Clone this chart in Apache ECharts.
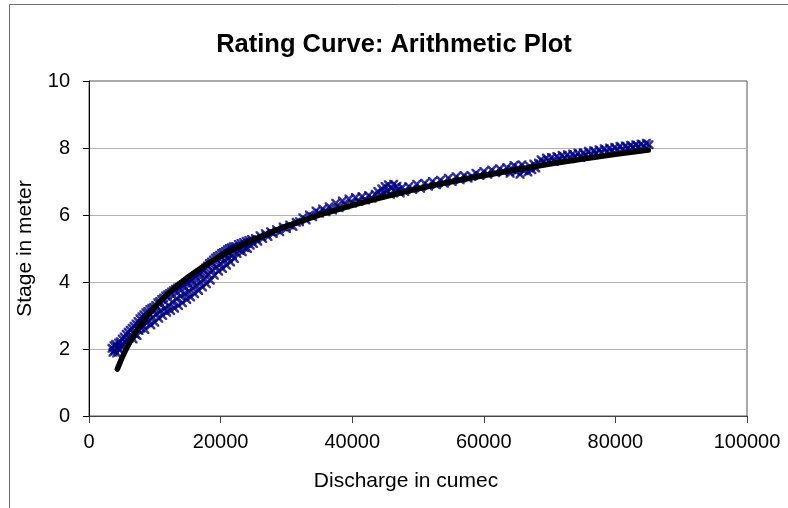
<!DOCTYPE html>
<html>
<head>
<meta charset="utf-8">
<title>Rating Curve: Arithmetic Plot</title>
<script src="https://cdn.jsdelivr.net/npm/echarts@6/dist/echarts.min.js"></script>
<style>
  html, body { margin: 0; padding: 0; background: #ffffff; }
  #chart { width: 788px; height: 508px; }
</style>
</head>
<body>
<div id="chart"></div>
<script>
// Gauged observations: [discharge (cumec), stage (m)]
const gaugings = [
  [3500,2.02],[3650,1.90],[3800,2.10],[3900,1.96],[4050,2.14],[4200,1.88],[4350,2.05],[4500,2.18],
  [4600,1.98],[4750,2.22],[4900,2.08],[5050,2.30],[5200,2.12],[5350,2.36],[5500,2.20],[5650,2.44],
  [5800,2.26],[5950,2.50],[6100,2.32],[6250,2.56],[6400,2.40],[6550,2.62],
  [6700,2.30],[6850,2.68],[7000,2.45],[7150,2.75],[7300,2.40],[7450,2.82],[7600,2.55],[7750,2.90],
  [7900,2.62],[8050,2.96],[8200,2.70],[8350,3.02],[8500,2.58],[8650,3.08],[8800,2.78],[8950,3.12],
  [9100,2.85],[9250,3.18],[9400,2.72],[9550,3.22],
  [9700,2.95],[9850,3.25],[10000,2.80],[10150,3.30],[10300,3.05],[10450,3.38],[10600,2.92],[10750,3.42],
  [10900,3.15],[11050,3.48],[11200,3.00],[11350,3.52],[11500,3.22],[11650,3.58],[11800,3.10],[11950,3.62],
  [12100,3.30],[12250,3.66],[12400,3.15],[12550,3.70],[12700,3.40],[12850,3.74],[13000,3.22],[13150,3.78],
  [13300,3.50],[13450,3.82],[13600,3.30],[13750,3.85],[13900,3.58],[14050,3.88],[14200,3.38],[14350,3.92],
  [14500,3.65],
  [14700,3.96],[14850,3.48],[15000,3.98],[15150,3.72],[15300,4.02],[15450,3.55],[15600,4.08],[15750,3.82],
  [15900,4.12],[16050,3.65],[16200,4.18],[16350,3.90],[16500,4.22],[16650,3.75],[16800,4.26],[16950,4.00],
  [17100,4.30],
  [17250,3.85],[17400,4.35],[17550,4.10],[17700,4.42],[17850,3.95],[18000,4.48],[18150,4.22],[18300,4.55],
  [18450,4.05],[18600,4.60],[18750,4.35],[18900,4.66],[19050,4.20],[19200,4.72],[19350,4.45],[19500,4.76],
  [19700,4.32],[19850,4.80],[20000,4.55],[20150,4.85],[20300,4.40],[20450,4.88],[20600,4.65],[20750,4.92],
  [20900,4.50],[21050,4.96],[21200,4.72],[21350,5.00],[21500,4.60],[21650,5.02],[21800,4.80],[21950,5.05],
  [22100,4.70],
  [22300,5.06],[22500,4.85],[22700,5.12],[22900,4.95],[23100,5.15],[23300,4.90],[23500,5.18],[23700,5.02],
  [23900,5.22],[24100,5.00],[24300,5.24],[24500,5.10],[24700,5.27],
  [25000,5.15],[25300,5.30],[25650,5.22],[26000,5.38],[26400,5.30],[26800,5.44],[27200,5.36],[27600,5.50],
  [28000,5.45],[28500,5.56],[29000,5.50],[29500,5.64],[30000,5.60],[30500,5.70],[31000,5.66],[31500,5.78],
  [32000,5.80],[32500,5.92],[33000,5.85],[33500,6.00],[34000,5.95],[34500,6.12],[35000,6.05],[35500,6.18],
  [36000,6.10],[36500,6.25],[37000,6.15],[37500,6.35],[38000,6.22],[38500,6.42],[39000,6.30],[39500,6.48],
  [40000,6.35],[40500,6.52],[41000,6.40],[41500,6.55],[42000,6.45],[42500,6.58],[43000,6.50],[43500,6.62],
  [43900,6.70],[44200,6.58],[44500,6.78],[44800,6.65],[45000,6.85],[45300,6.72],[45500,6.90],[45800,6.62],
  [46000,6.80],[46300,6.92],[46500,6.70],[46800,6.86],[47000,6.75],[47300,6.66],[47600,6.82],
  [48000,6.70],[48600,6.85],[49200,6.76],[49800,6.92],[50400,6.80],[51000,6.95],[51600,6.86],[52200,7.00],
  [52800,6.90],[53400,7.04],[54000,6.95],[54600,7.10],[55200,7.00],[55800,7.14],[56400,7.05],[57000,7.18],
  [57600,7.10],
  [58200,7.15],[58800,7.25],[59400,7.18],[60000,7.30],[60600,7.22],[61200,7.34],[61800,7.26],[62400,7.38],
  [63000,7.30],
  [63500,7.42],[64000,7.25],[64300,7.35],[64600,7.48],[64900,7.30],[65200,7.40],[65500,7.22],[65800,7.50],
  [66100,7.32],[66400,7.38],[66700,7.28],[67000,7.45],[67300,7.35],[67600,7.52],[67900,7.40],
  [68300,7.55],[68700,7.65],[69100,7.58],[69500,7.70],[69900,7.62],[70300,7.72],[70700,7.60],[71100,7.75],
  [71500,7.66],[71900,7.78],[72300,7.70],[72700,7.80],[73100,7.68],[73500,7.82],[73900,7.74],[74300,7.85],
  [74700,7.72],[75100,7.86],[75500,7.78],[75900,7.90],[76300,7.80],[76700,7.92],[77100,7.84],[77500,7.95],
  [77900,7.86],[78300,7.98],[78700,7.88],[79100,8.00],[79500,7.92],[79900,8.02],[80300,7.94],[80700,8.05],
  [81100,7.96],[81500,8.06],[81900,8.00],[82300,8.08],[82700,8.02],[83100,8.10],[83500,8.04],[83900,8.12],
  [84300,8.06],[84700,8.14],[85100,8.10]
];

// Fitted rating curve (discharge, stage)
const trendDischarge = [4300, 4600, 5000, 5500, 6000, 6500, 7000, 7500, 8000, 9000, 10000, 11000, 12000,
  13000, 14000, 15000, 16000, 18000, 20000, 22000, 24000, 26000, 28000, 30000, 33000, 36000, 40000,
  44000, 48000, 52000, 56000, 60000, 65000, 70000, 75000, 80000, 85000];
const trendStage = [1.40, 1.54, 1.73, 1.94, 2.13, 2.30, 2.47, 2.62, 2.76, 3.02, 3.25, 3.46, 3.65,
  3.82, 3.99, 4.14, 4.28, 4.54, 4.77, 4.98, 5.17, 5.34, 5.51, 5.66, 5.87, 6.06, 6.29,
  6.50, 6.69, 6.87, 7.03, 7.18, 7.35, 7.52, 7.67, 7.81, 7.94];

const chartTitle = 'Rating Curve: Arithmetic Plot';
const xTitle = 'Discharge in cumec';
const yTitle = 'Stage in meter';

const FONT = "'Liberation Sans', Arial, sans-serif";
// "x" shaped marker with solid arms
const crossMarker = 'path://M0,0 L2,0 L5,3 L8,0 L10,0 L10,2 L7,5 L10,8 L10,10 L8,10 L5,7 L2,10 L0,10 L0,8 L3,5 L0,2 Z';

const chart = echarts.init(document.getElementById('chart'), null, { renderer: 'canvas' });

chart.setOption({
  backgroundColor: '#ffffff',
  animation: false,
  title: {
    text: chartTitle,
    left: 'center',
    top: 32,
    padding: 0,
    textStyle: { fontFamily: FONT, fontSize: 25.5, fontWeight: 'bold', color: '#000000' }
  },
  graphic: [{
    type: 'rect',
    silent: true,
    shape: { x: 9.5, y: 4.5, width: 900, height: 700 },
    style: { fill: 'none', stroke: '#6e6e6e', lineWidth: 1 },
    z: -1
  }],
  grid: {
    left: 89, right: 41, top: 81, bottom: 92,
    show: true,
    borderColor: '#555555',
    borderWidth: 1,
    backgroundColor: 'transparent'
  },
  xAxis: {
    type: 'value',
    min: 0, max: 100000, interval: 20000,
    name: xTitle,
    nameLocation: 'middle',
    nameGap: 55,
    nameTextStyle: { fontFamily: FONT, fontSize: 21, color: '#000000', padding: [0, 24, 0, 0] },
    axisLine: { show: true, onZero: false, lineStyle: { color: '#444444', width: 1 } },
    axisTick: { show: true, inside: false, length: 7, lineStyle: { color: '#444444' } },
    axisLabel: { fontFamily: FONT, fontSize: 20, color: '#000000', margin: 16, formatter: (v) => String(v) },
    splitLine: { show: false }
  },
  yAxis: {
    type: 'value',
    min: 0, max: 10, interval: 2,
    name: yTitle,
    nameLocation: 'middle',
    nameGap: 53,
    nameRotate: 90,
    nameTextStyle: { fontFamily: FONT, fontSize: 21, color: '#000000' },
    axisLine: { show: true, onZero: false, lineStyle: { color: '#000000', width: 1 } },
    axisTick: { show: true, inside: false, length: 6, lineStyle: { color: '#000000' } },
    axisLabel: { fontFamily: FONT, fontSize: 20, color: '#000000', margin: 19 },
    splitLine: { show: true, showMinLine: false, showMaxLine: false, lineStyle: { color: '#b4b4b4', width: 1 } }
  },
  series: [
    {
      name: 'Observed',
      type: 'scatter',
      data: gaugings,
      symbol: crossMarker,
      symbolSize: 9,
      itemStyle: { color: '#000080' },
      z: 2
    },
    {
      name: 'Rating curve',
      type: 'line',
      data: trendDischarge.map((q, i) => [q, trendStage[i]]),
      smooth: false,
      showSymbol: false,
      symbol: 'none',
      lineStyle: { color: '#000000', width: 5.5, cap: 'round', join: 'round' },
      z: 3
    }
  ]
});
</script>
</body>
</html>
